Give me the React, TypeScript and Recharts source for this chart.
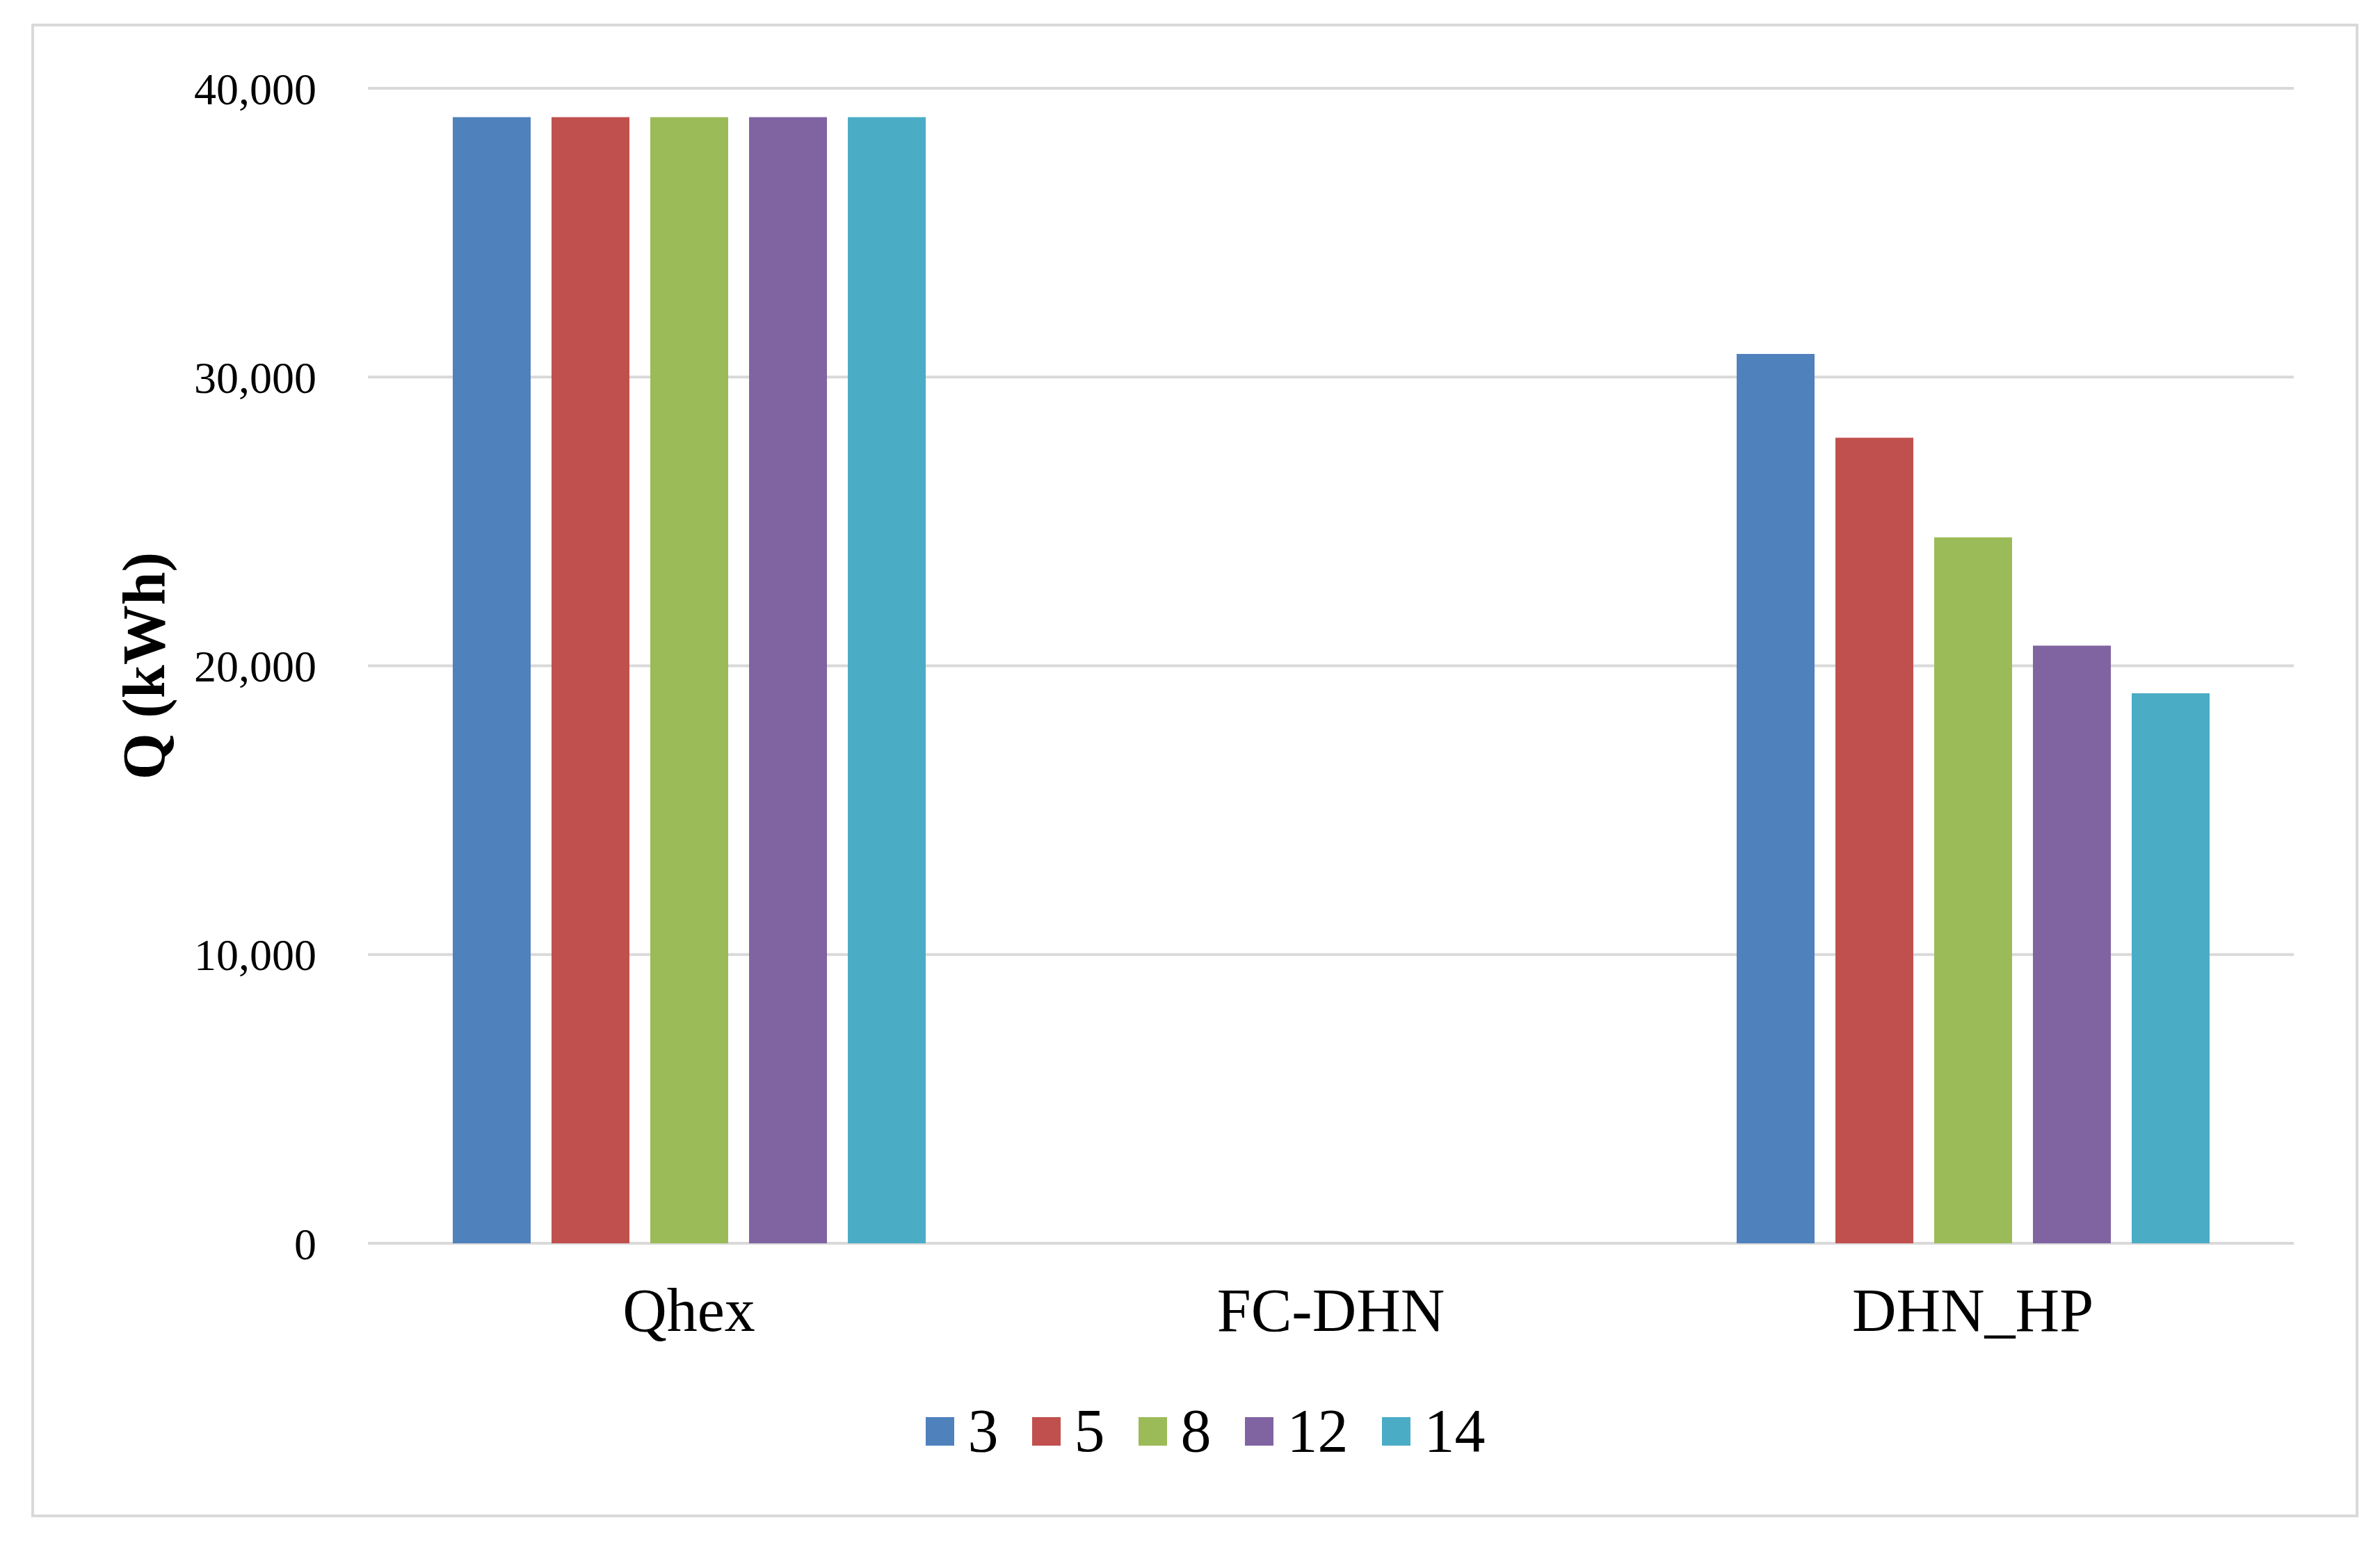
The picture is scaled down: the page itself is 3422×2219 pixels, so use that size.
import { BarChart, Bar, XAxis, YAxis, CartesianGrid, Legend } from "recharts";

const categories = ["Qhex", "FC-DHN", "DHN_HP"];
const seriesNames = ["3", "5", "8", "12", "14"];
const values3 = [39000, 0, 30800];
const values5 = [39000, 0, 27900];
const values8 = [39000, 0, 24450];
const values12 = [39000, 0, 20700];
const values14 = [39000, 0, 19050];
const yTicks = [0, 10000, 20000, 30000, 40000];

const colors = ["#4F81BD", "#C0504D", "#9BBB59", "#8064A2", "#4BACC6"];
const FONT = '"Liberation Serif", "Times New Roman", serif';

const allSeries = [values3, values5, values8, values12, values14];

const chartData = categories.map((name, i) => {
  const row: Record<string, string | number> = { name };
  seriesNames.forEach((s, j) => {
    row[s] = allSeries[j][i];
  });
  return row;
});

function LegendContent(props: any) {
  // keep the series order (recharts sorts legend items by value otherwise)
  const items = [...(props.payload || [])].sort(
    (a: any, b: any) => seriesNames.indexOf(String(a.value)) - seriesNames.indexOf(String(b.value))
  );
  return (
    <div
      style={{
        display: "flex",
        justifyContent: "center",
        alignItems: "center",
        height: 100,
        fontFamily: FONT,
        color: "#000",
      }}
    >
      {items.map((entry: any, i: number) => (
        <div
          key={entry.value}
          style={{ display: "flex", alignItems: "center", marginLeft: i === 0 ? 0 : 48 }}
        >
          <span
            style={{ width: 41, height: 41, background: entry.color, marginRight: 20, display: "inline-block" }}
          />
          <span style={{ fontSize: 88, lineHeight: "100px" }}>{entry.value}</span>
        </div>
      ))}
    </div>
  );
}

function YLabel(props: any) {
  const { viewBox } = props;
  const cx = viewBox.x + 207;
  const cy = viewBox.y + viewBox.height / 2;
  return (
    <text
      x={cx}
      y={cy}
      transform={`rotate(-90, ${cx}, ${cy})`}
      textAnchor="middle"
      dominantBaseline="central"
      fontFamily={FONT}
      fontWeight="bold"
      fontSize={86}
      fill="#000"
    >
      Q (kWh)
    </text>
  );
}

export default function App() {
  return (
    <div style={{ position: "absolute", left: 0, top: 0, width: 3422, height: 2219, background: "#fff" }}>
      <div
        style={{
          position: "absolute",
          left: 45,
          top: 34,
          width: 3346,
          height: 2148,
          border: "4px solid #d9d9d9",
          boxSizing: "border-box",
        }}
      />
      <div style={{ position: "absolute", left: 0, top: 0 }}>
        <BarChart
          width={3422}
          height={2219}
          data={chartData}
          margin={{ top: 127, right: 124, left: 0, bottom: 231 }}
          barCategoryGap={122}
          barGap={30}
        >
          <CartesianGrid vertical={false} stroke="#d9d9d9" strokeWidth={4} />
          <XAxis
            dataKey="name"
            axisLine={false}
            tickLine={false}
            tickSize={0}
            tickMargin={64}
            height={200}
            tick={{ fontSize: 88, fill: "#000", fontFamily: FONT }}
          />
          <YAxis
            width={529}
            domain={[0, 40000]}
            ticks={yTicks}
            axisLine={false}
            tickLine={false}
            tickSize={0}
            tickMargin={74}
            tickFormatter={(v: number) => v.toLocaleString("en-US")}
            tick={{ fontSize: 64, fill: "#000", fontFamily: FONT }}
            label={<YLabel />}
          />
          <Legend
            layout="horizontal"
            verticalAlign="middle"
            align="center"
            content={<LegendContent />}
            wrapperStyle={{ left: 46, top: 2008, width: 3374, height: 100 }}
          />
          {seriesNames.map((s, j) => (
            <Bar key={s} dataKey={s} name={s} fill={colors[j]} isAnimationActive={false} />
          ))}
        </BarChart>
      </div>
    </div>
  );
}
